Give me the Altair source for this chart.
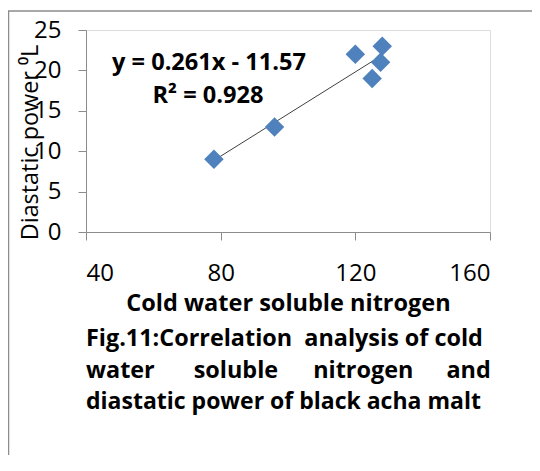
import altair as alt
import pandas as pd

# data
cwsn = [78, 96, 120, 125, 127.5, 128]
diastatic = [9, 13, 22, 19, 21, 23]
x_ticks = [40, 80, 120, 160]
y_ticks = [0, 5, 10, 15, 20, 25]
eq_line1 = "y = 0.261x - 11.57"
eq_line2 = "R\u00b2 = 0.928"
caption = [
    "Fig.11:Correlation\u00a0 analysis of cold",
    "water\u2003\u2002\u2009soluble\u2003\u2002nitrogen\u2003\u2005\u2009and",
    "diastatic power of black acha malt",
]
x_title = "Cold water soluble nitrogen"
y_title = "Diastatic power \u2070L"

FONT = "Open Sans"
df = pd.DataFrame({"cwsn": cwsn, "dp": diastatic})

xs = alt.Scale(domain=[40, 160], nice=False, zero=False)
ys = alt.Scale(domain=[0, 25], nice=False)

base = alt.Chart(df)

points = base.mark_point(shape="diamond", filled=True, size=380, color="#4F81BD", opacity=1).encode(
    x=alt.X("cwsn:Q", scale=xs, title=x_title,
            axis=alt.Axis(values=x_ticks, grid=False, tickSize=8, labelPadding=21,
                          labelFontSize=24, labelFont=FONT, labelColor="#000",
                          domainColor="#8c8c8c", tickColor="#8c8c8c",
                          titleFont=FONT, titleFontSize=23.5, titleFontWeight="bold",
                          titleColor="#000", titleY=78, titleBaseline="alphabetic")),
    y=alt.Y("dp:Q", scale=ys, title=y_title,
            axis=alt.Axis(values=y_ticks, grid=False, tickSize=8, labelPadding=17,
                          labelFontSize=24, labelFont=FONT, labelColor="#000",
                          domainColor="#8c8c8c", tickColor="#8c8c8c",
                          titleFont=FONT, titleFontSize=23.4, titleFontWeight="normal",
                          titleColor="#000", titleAngle=270, titleX=-49, titleY=112,
                          titleBaseline="alphabetic")),
)

trend = base.transform_regression("cwsn", "dp").mark_line(color="#404040", strokeWidth=1).encode(
    x=alt.X("cwsn:Q", scale=xs),
    y=alt.Y("dp:Q", scale=ys),
)

one = alt.Chart(pd.DataFrame({"k": [0]}))

def txt(s, x, y, align="center", size=23):
    return one.mark_text(text=s, font=FONT, fontSize=size, fontWeight="bold", color="#000",
                         align=align, baseline="alphabetic").encode(x=alt.value(x), y=alt.value(y))

eq1 = txt(eq_line1, 123, 40, size=23.6)
eq2 = txt(eq_line2, 122, 73, size=23.6)
cap_sizes = [23.4, 23.4, 23.0]
cap = [txt(c, 0, y, align="left", size=s) for c, y, s in zip(caption, [316, 348, 379], cap_sizes)]

frame = one.mark_rect(filled=False, stroke="#8c8c8c", strokeWidth=1.5).encode(
    x=alt.value(-77.5), x2=alt.value(600), y=alt.value(-19), y2=alt.value(700)
)

chart = alt.layer(frame, trend, points, eq1, eq2, *cap).properties(
    width=404, height=202,
    autosize=alt.AutoSizeParams(type="none"),
    padding={"left": 78, "top": 22, "right": 42, "bottom": 223},
).configure_view(stroke=None).configure(background="white")

chart.save("out.html", embed_options={"renderer": "svg", "actions": False})
